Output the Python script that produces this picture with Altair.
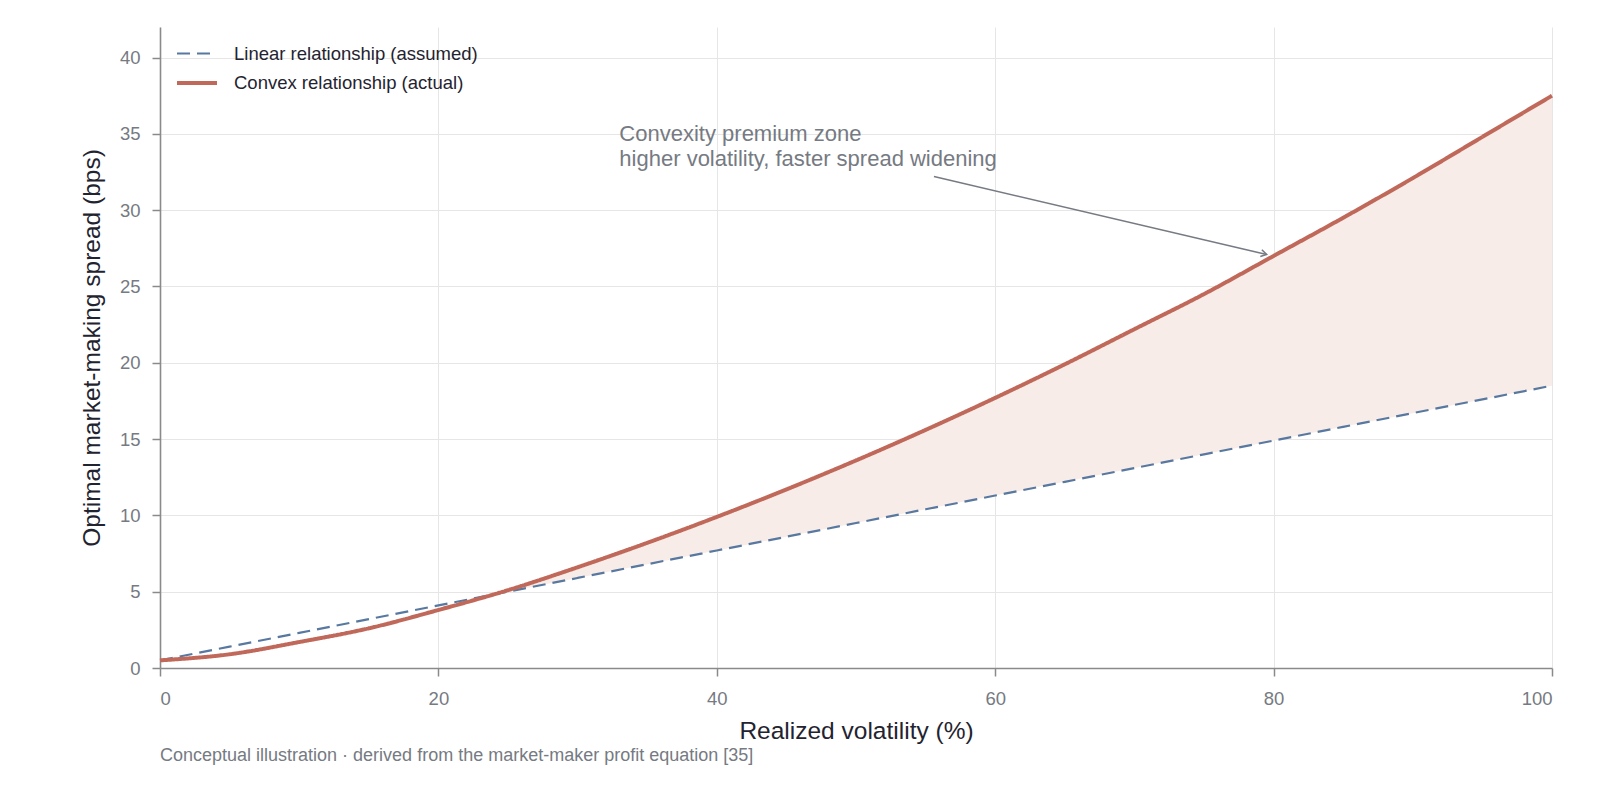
import altair as alt
import pandas as pd

# values
volatility = [0, 5, 10, 15, 20, 25, 30, 35, 40, 45, 50,
              55, 60, 65, 70, 75, 80, 85, 90, 95, 100]
linear_spread = [0.5, 1.4, 2.3, 3.2, 4.1, 5.0, 5.9, 6.8, 7.7, 8.6, 9.5,
                 10.4, 11.3, 12.2, 13.1, 14.0, 14.9, 15.8, 16.7, 17.6, 18.5]
convex_spread = [0.5, 0.9, 1.7, 2.6, 3.8, 5.1, 6.6, 8.2, 9.9, 11.7, 13.6,
                 15.6, 17.7, 19.9, 22.2, 24.5, 27.0, 29.5, 32.1, 34.8, 37.5]
series_names = ["Linear relationship (assumed)", "Convex relationship (actual)"]
x_ticks = [0, 20, 40, 60, 80, 100]
y_ticks = [0, 5, 10, 15, 20, 25, 30, 35, 40]

note_lines = ["Convexity premium zone", "higher volatility, faster spread widening"]
note_pos = {"vol": 33.0, "spread": 35.62}
arrow = {"vol": 55.6, "spread": 32.2, "vol_end": 79.5, "spread_end": 27.1}
footnote = "Conceptual illustration \u00b7 derived from the market-maker profit equation [35]"

FONT = "Liberation Sans"
BLUE = "#5878a0"
RED = "#c0695a"
FILL = "#f8ece8"
GRAY = "#767a82"
DARK = "#1f2430"
AXIS = "#8a8a8a"

wide = pd.DataFrame({"vol": volatility, "linear": linear_spread, "convex": convex_spread})
long = wide.melt("vol", var_name="key", value_name="spread")
long["series"] = long["key"].map({"linear": series_names[0], "convex": series_names[1]})

x_scale = alt.Scale(domain=[0, 100], nice=False)
y_scale = alt.Scale(domain=[0, 42], nice=False)

x_enc = alt.X("vol:Q", scale=x_scale, axis=alt.Axis(values=x_ticks, title="Realized volatility (%)"))
y_enc = alt.Y("spread:Q", scale=y_scale,
              axis=alt.Axis(values=y_ticks, title="Optimal market-making spread (bps)"))

# shaded gap between the two curves, from where they cross
premium = (
    alt.Chart(wide[wide["vol"] >= 25])
    .mark_area(color=FILL, opacity=1, interpolate="monotone")
    .encode(x=x_enc, y=alt.Y("convex:Q", scale=y_scale), y2="linear:Q")
)

lines = (
    alt.Chart(long)
    .mark_line(interpolate="monotone")
    .encode(
        x=x_enc,
        y=y_enc,
        color=alt.Color("series:N", scale=alt.Scale(domain=series_names, range=[BLUE, RED]),
                        legend=alt.Legend(title=None)),
        strokeDash=alt.StrokeDash("series:N", scale=alt.Scale(domain=series_names, range=[[13, 7], [1, 0]]),
                                  legend=alt.Legend(title=None)),
        strokeWidth=alt.StrokeWidth("series:N", scale=alt.Scale(domain=series_names, range=[2.2, 4]),
                                    legend=alt.Legend(title=None)),
    )
)

arrow_df = pd.DataFrame([arrow])
arrow_line = (
    alt.Chart(arrow_df)
    .mark_rule(color=GRAY, strokeWidth=1.5)
    .encode(x="vol:Q", y="spread:Q", x2="vol_end:Q", y2="spread_end:Q")
)
arrow_head = (
    alt.Chart(arrow_df)
    .mark_point(shape="M-1,-0.6L0,0L-1,0.6", filled=False, color=GRAY, strokeWidth=1.5,
                size=130, angle=13, opacity=1)
    .encode(x="vol_end:Q", y="spread_end:Q")
)

note = (
    alt.Chart(pd.DataFrame([{**note_pos, "text": note_lines}]))
    .mark_text(align="left", baseline="top", font=FONT, fontSize=22, color=GRAY, lineHeight=24.5)
    .encode(x="vol:Q", y="spread:Q", text="text")
)

chart = (
    alt.layer(premium, lines, arrow_line, arrow_head, note)
    .properties(
        width=1392,
        height=641,
        autosize=alt.AutoSizeParams(type="none"),
        padding={"left": 152, "top": 19, "right": 30, "bottom": 100},
        title=alt.TitleParams(footnote, orient="bottom", anchor="start", frame="group", font=FONT,
                              fontSize=18, fontWeight="normal", color=GRAY, offset=4),
    )
    .configure_view(stroke=None)
    .configure_axis(
        labelFont=FONT, labelFontSize=18.5, labelColor=GRAY,
        titleFont=FONT, titleFontSize=24.5, titleFontWeight="normal", titleColor=DARK,
        domainColor=AXIS, domainWidth=1.6, tickColor=AXIS, tickSize=8, tickWidth=1.5,
        gridColor="#e6e6e6", gridWidth=1,
    )
    .configure_axisX(labelPadding=13, titlePadding=12)
    .configure_axisY(labelPadding=12, titlePadding=15)
    .configure_legend(
        orient="none", legendX=25, legendY=15, labelFont=FONT, labelFontSize=18.5, labelColor=DARK,
        labelLimit=400, symbolType="M-2,0L2,0", symbolSize=400, symbolStrokeWidth=3,
        rowPadding=8, labelOffset=25,
    )
)

chart.save("out.html", embed_options={"renderer": "svg", "actions": False})
